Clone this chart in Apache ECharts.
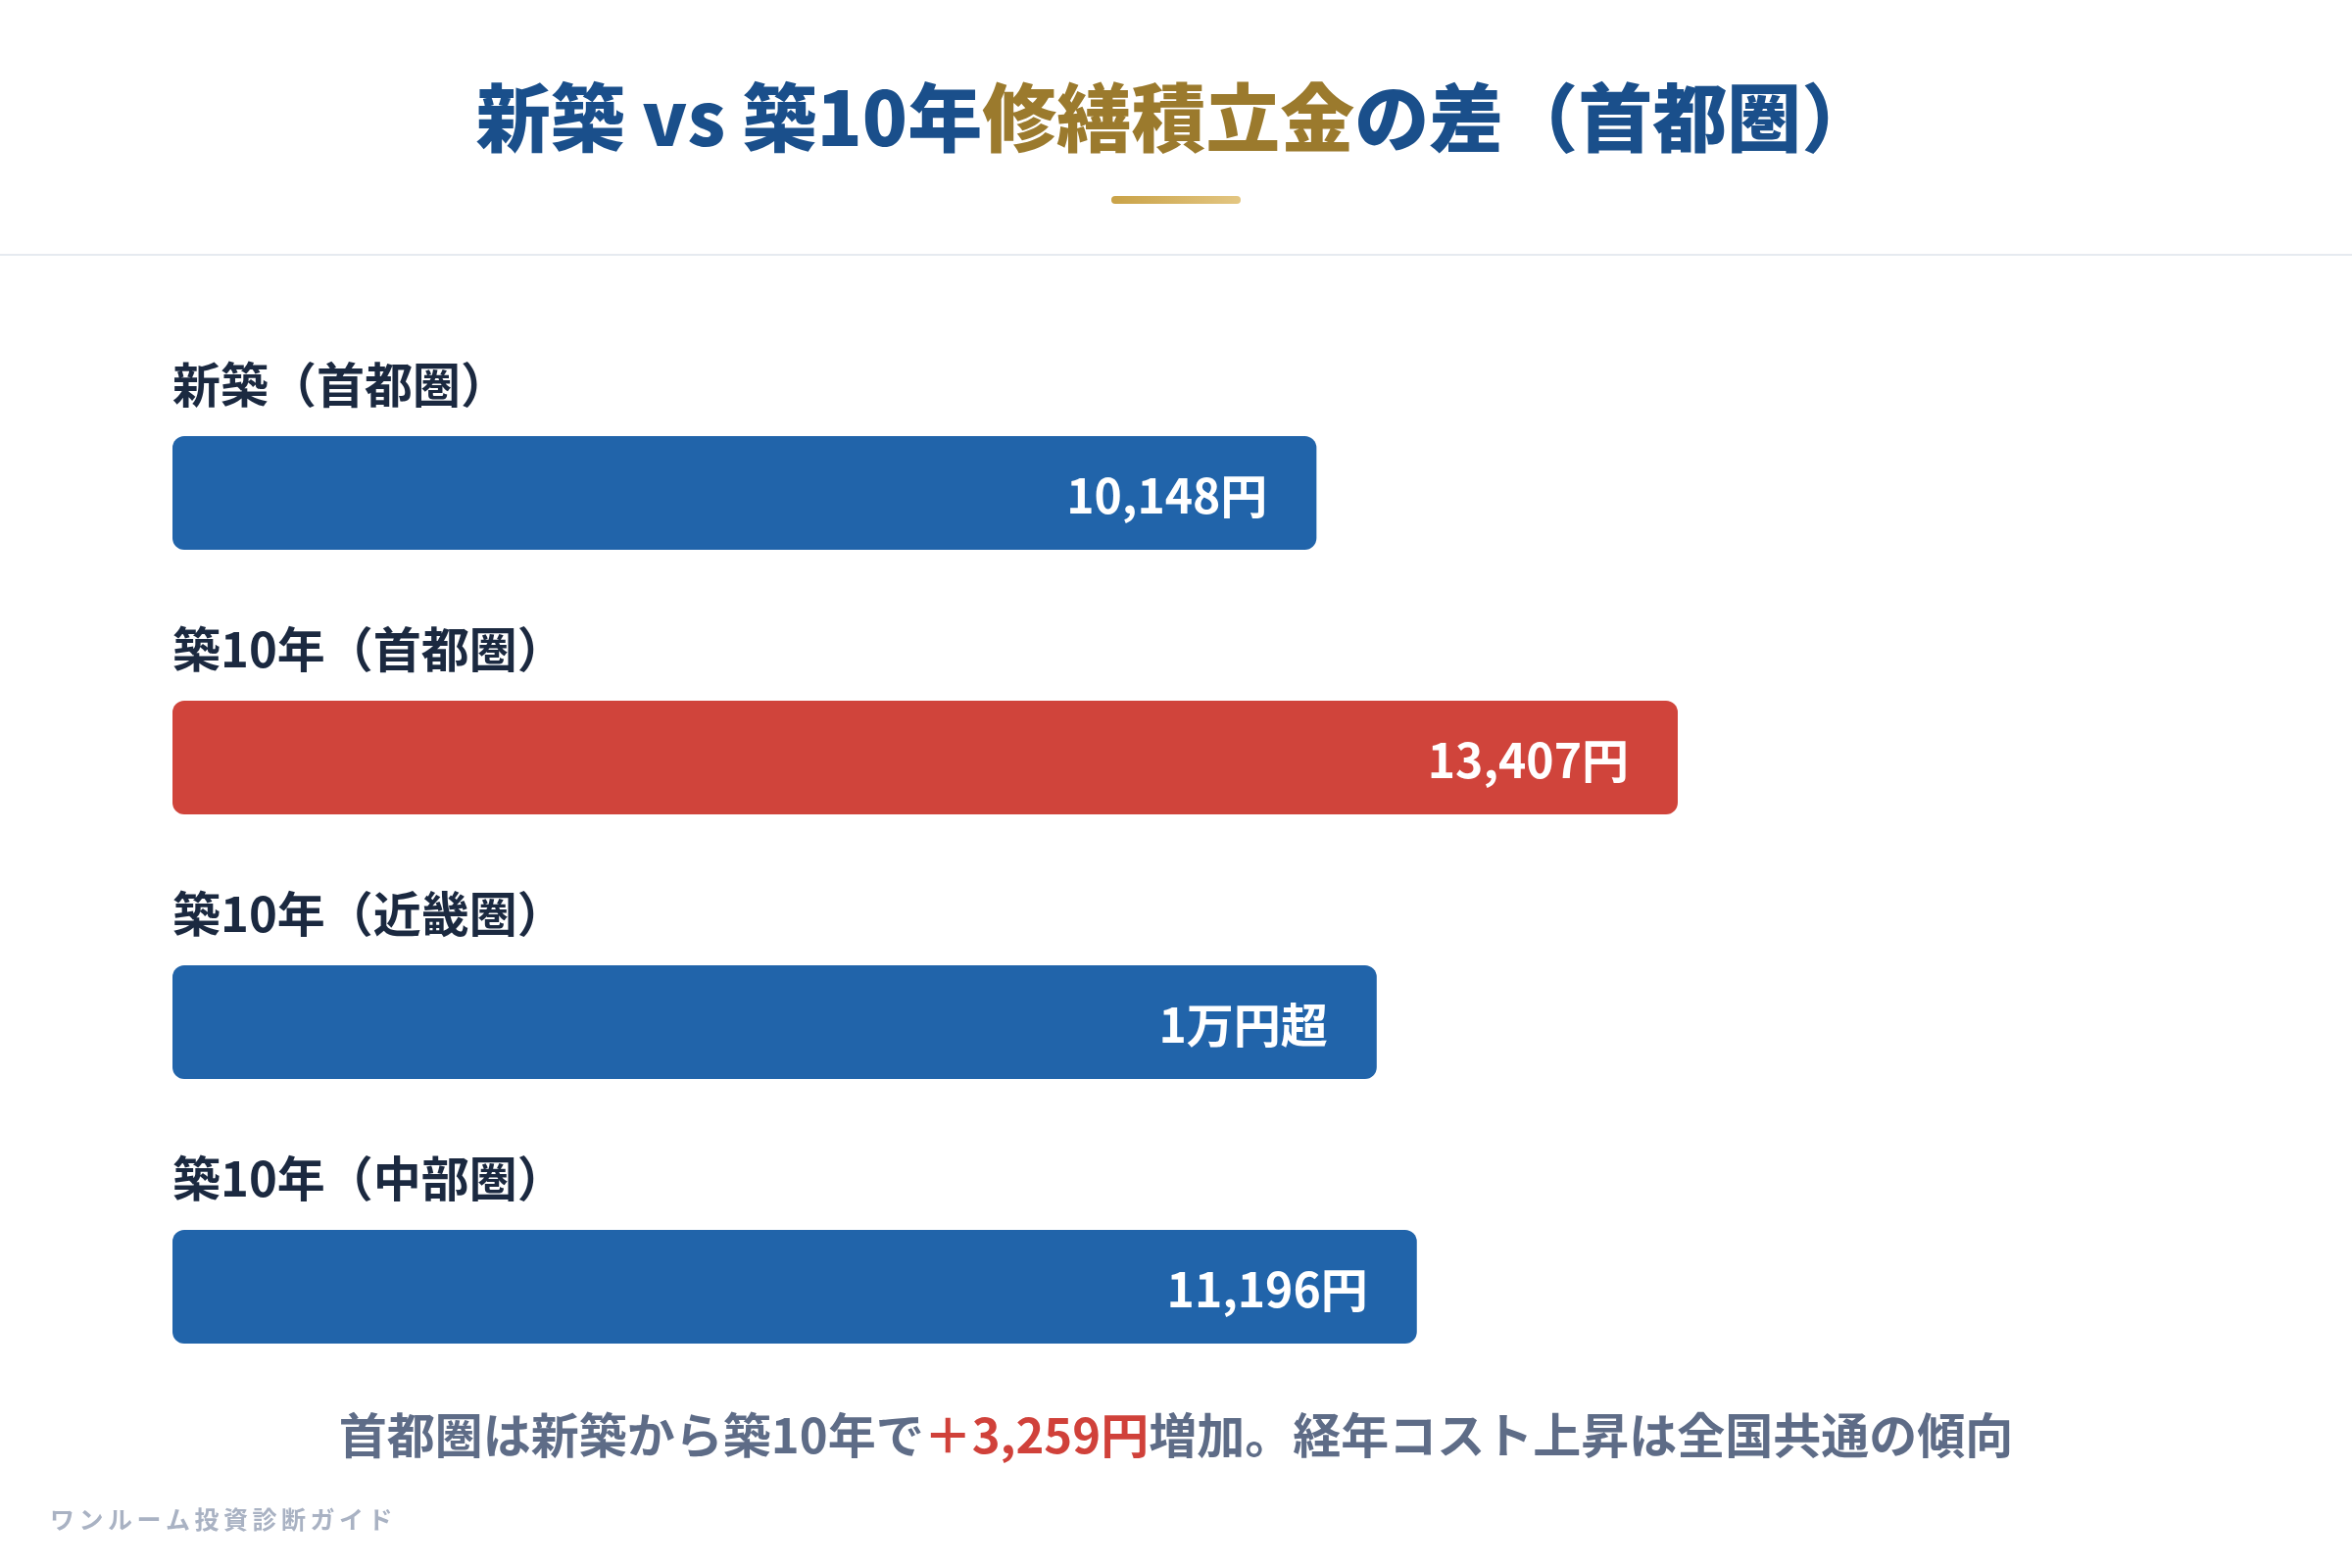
<!DOCTYPE html>
<html>
<head>
    <meta charset="utf-8">
    <script src="https://cdn.jsdelivr.net/npm/echarts@6/dist/echarts.min.js"></script>
    <style>
        html, body { margin: 0; padding: 0; background: #ffffff; }
    </style>
</head>
<body>
    <div id="main" style="width: 2400px;height:1600px;"></div>
    <script>
        // categories, top to bottom
        const categories = ['新築（首都圏）', '築10年（首都圏）', '築10年（近畿圏）', '築10年（中部圏）'];
        // bar length as % of the track
        const barPct = [57, 75, 60, 62];
        const valueLabels = ['10,148円', '13,407円', '1万円超', '11,196円'];
        const barColors = ['#2164aa', '#d0443b', '#2164aa', '#2164aa'];

        const FONT = '"Noto Sans CJK JP", "Noto Sans", sans-serif';
        const brand = 'ワンルーム投資診断ガイド';

        const chart = echarts.init(document.getElementById('main'));

        const option = {
            backgroundColor: '#ffffff',
            animation: false,
            title: [{
                left: 'center',
                top: 70,
                text: '{a|新築 vs 築10年}{g|修繕積立金}{a|の差（首都圏）}',
                textStyle: {
                    rich: {
                        a: { color: '#1a4f8b', fontSize: 76, fontWeight: 900, fontFamily: FONT, lineHeight: 90 },
                        g: { color: '#9b7a2d', fontSize: 76, fontWeight: 900, fontFamily: FONT, lineHeight: 90 }
                    }
                }
            }, {
                left: 'center',
                top: 1429,
                text: '{n|首都圏は新築から築10年で}{r|＋3,259円}{n|増加。経年コスト上昇は全国共通の傾向}',
                textStyle: {
                    rich: {
                        n: { color: '#5e6c87', fontSize: 49, fontWeight: 'bold', fontFamily: FONT, lineHeight: 60 },
                        r: { color: '#d0413a', fontSize: 49, fontWeight: 'bold', fontFamily: FONT, lineHeight: 60 }
                    }
                }
            }, {
                // spaced-out brand line, one rich token per character
                left: 46,
                top: 1529,
                text: brand.split('').map(function (c) { return '{c|' + c + '}'; }).join(''),
                textStyle: {
                    rich: {
                        c: { color: '#a9b2c3', fontSize: 25, fontWeight: 'bold', fontFamily: FONT, lineHeight: 32, padding: [0, 4.5, 0, 0] }
                    }
                }
            }],
            graphic: [{
                type: 'rect',
                shape: { x: 1134, y: 200, width: 132, height: 8, r: 4 },
                style: {
                    fill: new echarts.graphic.LinearGradient(0, 0, 1, 0, [
                        { offset: 0, color: '#c9a247' },
                        { offset: 1, color: '#e3c682' }
                    ])
                }
            }, {
                type: 'rect',
                shape: { x: 0, y: 259, width: 2400, height: 2 },
                style: { fill: '#e6eaf0' }
            }],
            grid: {
                left: 176,
                right: 176,
                top: 368,
                bottom: 152
            },
            xAxis: {
                type: 'value',
                min: 0,
                max: 100,
                show: false
            },
            yAxis: {
                type: 'category',
                data: categories,
                inverse: true,
                show: false
            },
            series: [{
                // carries the category names above each bar
                type: 'bar',
                data: barPct,
                barWidth: 116,
                itemStyle: { color: 'rgba(0,0,0,0)' },
                silent: true,
                label: {
                    show: true,
                    position: [0, -53],
                    align: 'left',
                    verticalAlign: 'middle',
                    formatter: function (p) { return categories[p.dataIndex]; },
                    color: '#1b2940',
                    fontSize: 49,
                    fontWeight: 'bold',
                    fontFamily: FONT
                }
            }, {
                type: 'bar',
                data: barPct.map(function (v, i) {
                    return { value: v, itemStyle: { color: barColors[i] } };
                }),
                barWidth: 116,
                barGap: '-100%',
                itemStyle: { borderRadius: 12 },
                label: {
                    show: true,
                    position: 'insideRight',
                    distance: 50,
                    offset: [0, 3],
                    formatter: function (p) { return valueLabels[p.dataIndex]; },
                    color: '#ffffff',
                    fontSize: 48,
                    fontWeight: 'bold',
                    fontFamily: FONT
                }
            }]
        };

        chart.setOption(option);
    </script>
</body>
</html>
